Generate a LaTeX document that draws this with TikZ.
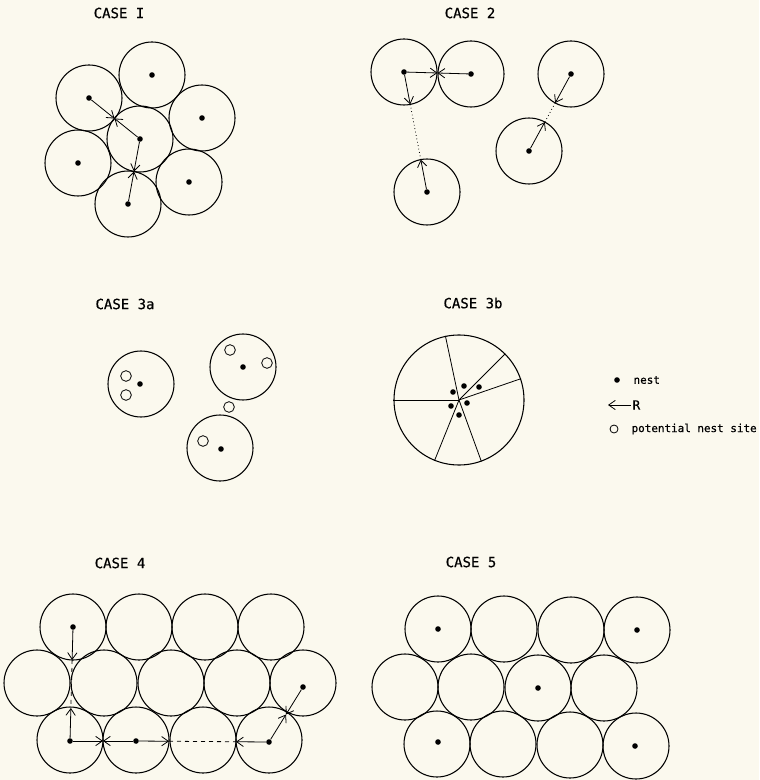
\documentclass[tikz,border=0pt]{standalone}
\usepackage{fontspec}
\newfontfamily\lettering[FakeBold=0.5]{DejaVu Sans Mono}
\usepackage{tikz}
\usetikzlibrary{arrows.meta,calc}
\definecolor{paper}{RGB}{251,249,238}

\begin{document}
\begin{tikzpicture}[
    x=0.75pt, y=-0.75pt,
    terr/.style={circle, draw, line width=0.8pt, minimum size=49.5pt, inner sep=0pt},
    nest/.style={circle, fill, minimum size=4.2pt, inner sep=0pt},
    site/.style={circle, draw, line width=0.6pt, minimum size=8pt, inner sep=0pt},
    title/.style={font=\lettering\fontsize{10.5}{12}\selectfont},
    key/.style={anchor=west, inner sep=1pt, font=\lettering\fontsize{8.2}{10}\selectfont},
    arrow/.style={->, >={Straight Barb[length=5pt, width=7pt]}, line width=0.6pt},
    link/.style={line width=0.6pt}
]
    \path[use as bounding box, fill=paper] (0,0) rectangle (759,780);

    % Case 1
    \node[title] (t1) at (119,13) {CASE I};
    \node[terr] (c1a) at (152,75) {};
    \node[terr] (c1b) at (89,98) {};
    \node[terr] (c1c) at (202,118) {};
    \node[terr] (c1d) at (140,139) {};
    \node[terr] (c1e) at (78,163) {};
    \node[terr] (c1f) at (189,182) {};
    \node[terr] (c1g) at (128,204) {};
    \node[nest] (n1a) at (c1a) {};
    \node[nest] (n1b) at (c1b) {};
    \node[nest] (n1c) at (c1c) {};
    \node[nest] (n1d) at (c1d) {};
    \node[nest] (n1e) at (c1e) {};
    \node[nest] (n1f) at (c1f) {};
    \node[nest] (n1g) at (c1g) {};
    \coordinate (m1) at ($(n1b)!0.5!(n1d)$);
    \coordinate (m2) at ($(n1d)!0.5!(n1g)$);
    \draw[arrow] (n1b) -- (m1);
    \draw[arrow] (n1d) -- (m1);
    \draw[arrow] (n1d) -- (m2);
    \draw[arrow] (n1g) -- (m2);

    % Case 2
    \node[title] (t2) at (470,13) {CASE 2};
    \node[terr] (c2a) at (404,72) {};
    \node[terr] (c2b) at (471,74) {};
    \node[terr] (c2c) at (427,192) {};
    \node[terr] (c2d) at (571,74) {};
    \node[terr] (c2e) at (529,151) {};
    \node[nest] (n2a) at (c2a) {};
    \node[nest] (n2b) at (c2b) {};
    \node[nest] (n2c) at (c2c) {};
    \node[nest] (n2d) at (c2d) {};
    \node[nest] (n2e) at (c2e) {};
    \coordinate (m3) at ($(n2a)!0.5!(n2b)$);
    \coordinate (e1) at ($(n2a)!24.75pt!(n2c)$);
    \coordinate (e2) at ($(n2c)!24.75pt!(n2a)$);
    \coordinate (e3) at ($(n2d)!24.75pt!(n2e)$);
    \coordinate (e4) at ($(n2e)!24.75pt!(n2d)$);
    \draw[arrow] (n2a) -- (m3);
    \draw[arrow] (n2b) -- (m3);
    \draw[arrow] (n2a) -- (e1);
    \draw[arrow] (n2c) -- (e2);
    \draw[link, dotted] (e1) -- (e2);
    \draw[arrow] (n2d) -- (e3);
    \draw[arrow] (n2e) -- (e4);
    \draw[link, dotted] (e3) -- (e4);

    % Case 3a
    \node[title] (t3) at (125,304) {CASE 3a};
    \node[terr] (c3a) at (141,384) {};
    \node[terr] (c3b) at (243,367) {};
    \node[terr] (c3c) at (220,448) {};
    \node[nest] (n3a) at (140,384) {};
    \node[nest] (n3b) at (243,367) {};
    \node[nest] (n3c) at (221,449) {};
    \node[site] (s1) at (126,376) {};
    \node[site] (s2) at (126,395) {};
    \node[site] (s3) at (230,350) {};
    \node[site] (s4) at (267,363) {};
    \node[site] (s5) at (229,407) {};
    \node[site] (s6) at (203,441) {};

    % Case 3b
    \node[title] (t4) at (473,303) {CASE 3b};
    \node[terr, minimum size=97.5pt] (c3d) at (459,400) {};
    \draw[link] (c3d.center) -- (c3d.102);
    \draw[link] (c3d.center) -- (c3d.45);
    \draw[link] (c3d.center) -- (c3d.19);
    \draw[link] (c3d.center) -- (c3d.180);
    \draw[link] (c3d.center) -- (c3d.248);
    \draw[link] (c3d.center) -- (c3d.290);
    \node[nest] (n3d) at (453,392) {};
    \node[nest] (n3e) at (464,386) {};
    \node[nest] (n3f) at (479,387) {};
    \node[nest] (n3g) at (451,406) {};
    \node[nest] (n3h) at (467,403) {};
    \node[nest] (n3i) at (459,415) {};

    % Key
    \node[nest] (kn) at (617,380) {};
    \node[key] (knest) at (632,380) {nest};
    \node[key, font=\lettering\fontsize{9.5}{10}\selectfont] (kR) at (631,405) {R};
    \coordinate (ktip) at (608,405);
    \draw[arrow] (kR) -- (ktip);
    \node[site, minimum size=6pt] (ks) at (614,429) {};
    \node[key] (ksite) at (630,429) {potential nest site};

    % Case 4
    \node[title] (t5) at (120,563) {CASE 4};
    \node[terr] (c4a1) at (73,627) {};
    \node[terr] (c4a2) at (139,627) {};
    \node[terr] (c4a3) at (205,627) {};
    \node[terr] (c4a4) at (271,627) {};
    \node[terr] (c4b1) at (37,683) {};
    \node[terr] (c4b2) at (104,683) {};
    \node[terr] (c4b3) at (171,683) {};
    \node[terr] (c4b4) at (237,683) {};
    \node[terr] (c4b5) at (303,683) {};
    \node[terr] (c4c1) at (70,740) {};
    \node[terr] (c4c2) at (136,740) {};
    \node[terr] (c4c3) at (203,740) {};
    \node[terr] (c4c4) at (269,740) {};
    \node[nest] (n4a) at (73,627) {};
    \node[nest] (n4b) at (70,741) {};
    \node[nest] (n4c) at (136,741) {};
    \node[nest] (n4d) at (269,742) {};
    \node[nest] (n4e) at (303,687) {};
    \coordinate (d1) at ($(n4a)!24.75pt!(n4b)$);
    \coordinate (d2) at ($(n4b)!24.75pt!(n4a)$);
    \coordinate (d3) at ($(n4c)!24.75pt!(n4d)$);
    \coordinate (d4) at ($(n4d)!24.75pt!(n4c)$);
    \coordinate (m4) at ($(n4b)!0.5!(n4c)$);
    \coordinate (m5) at ($(n4d)!0.5!(n4e)$);
    \draw[arrow] (n4a) -- (d1);
    \draw[arrow] (n4b) -- (d2);
    \draw[link, dashed] (d1) -- (d2);
    \draw[arrow] (n4b) -- (m4);
    \draw[arrow] (n4c) -- (m4);
    \draw[arrow] (n4c) -- (d3);
    \draw[arrow] (n4d) -- (d4);
    \draw[link, dashed] (d3) -- (d4);
    \draw[arrow] (n4d) -- (m5);
    \draw[arrow] (n4e) -- (m5);

    % Case 5
    \node[title] (t6) at (471,562) {CASE 5};
    \node[terr] (c5a1) at (438,629) {};
    \node[terr] (c5a2) at (504,629) {};
    \node[terr] (c5a3) at (571,630) {};
    \node[terr] (c5a4) at (637,630) {};
    \node[terr] (c5b1) at (405,687) {};
    \node[terr] (c5b2) at (471,687) {};
    \node[terr] (c5b3) at (538,688) {};
    \node[terr] (c5b4) at (604,688) {};
    \node[terr] (c5c1) at (437,744) {};
    \node[terr] (c5c2) at (503,744) {};
    \node[terr] (c5c3) at (570,745) {};
    \node[terr] (c5c4) at (636,746) {};
    \node[nest] (n5a) at (438,629) {};
    \node[nest] (n5b) at (637,630) {};
    \node[nest] (n5c) at (538,688) {};
    \node[nest] (n5d) at (438,742) {};
    \node[nest] (n5e) at (635,746) {};
\end{tikzpicture}
\end{document}
